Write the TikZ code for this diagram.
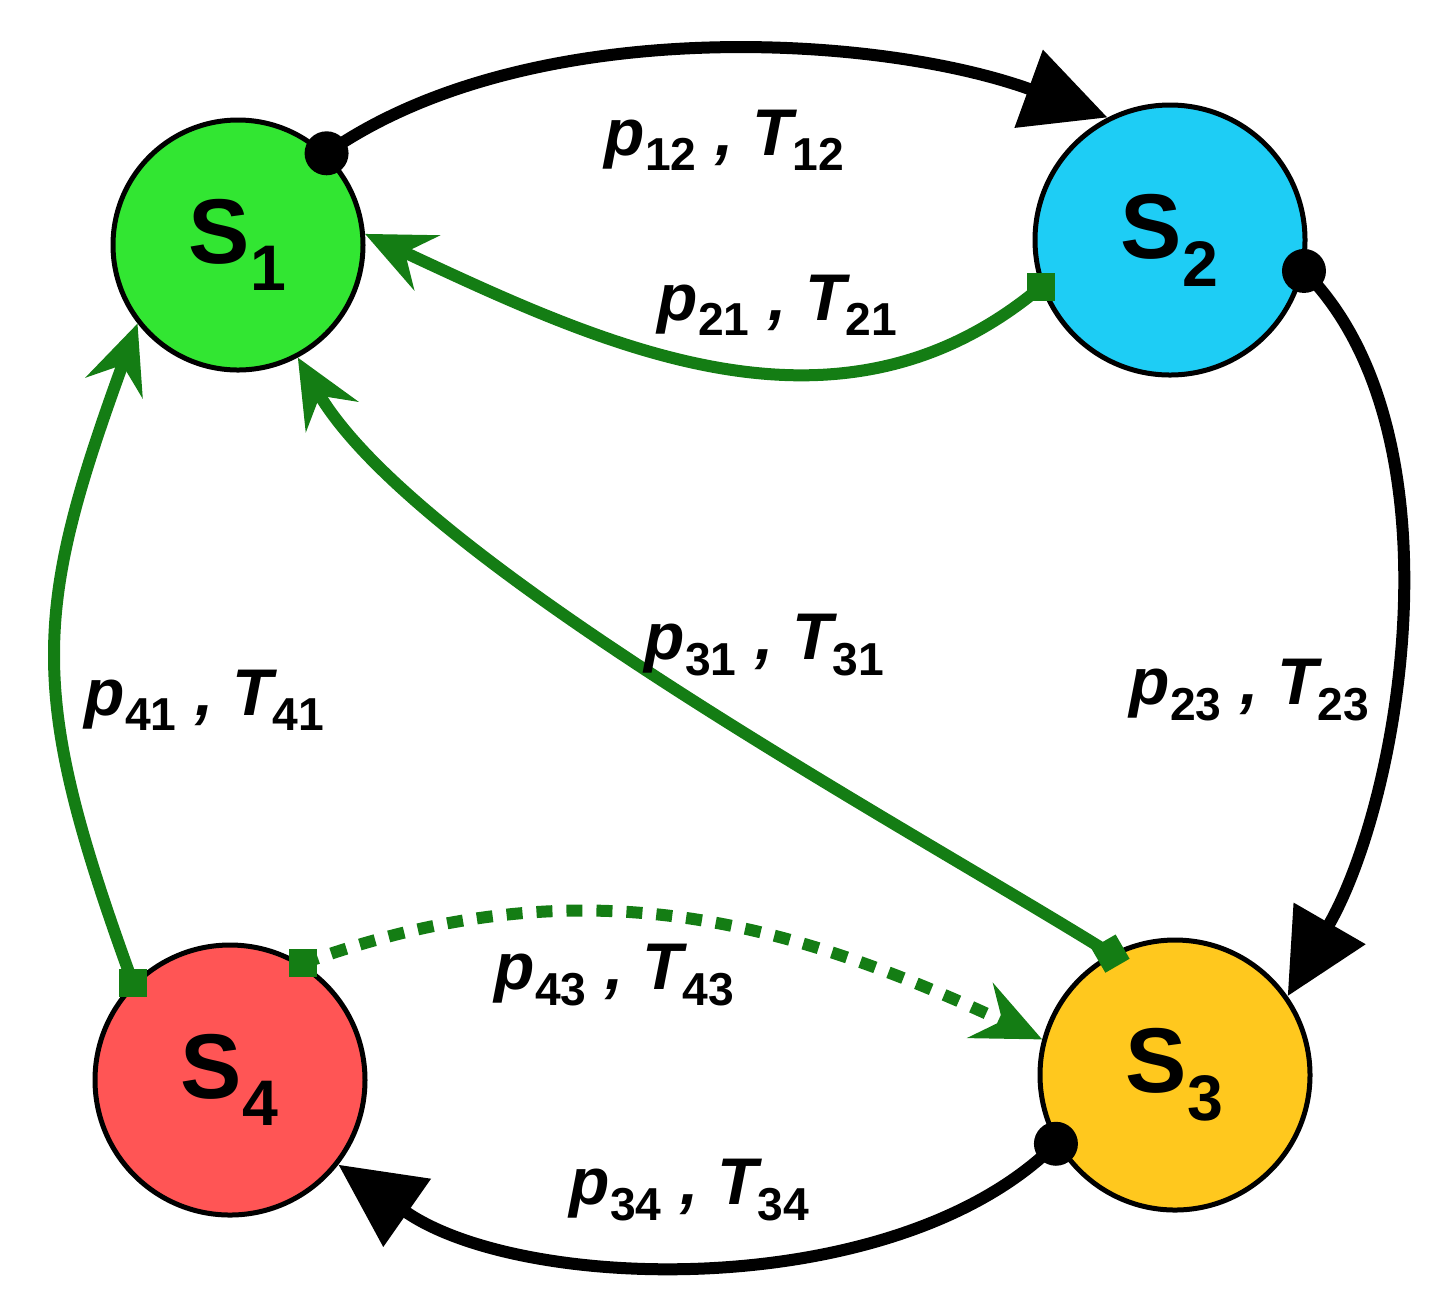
\documentclass[tikz,border=0pt]{standalone}
\usepackage{fontspec}
\setmainfont{Liberation Sans}
\usetikzlibrary{arrows.meta}
\definecolor{dg}{RGB}{20,125,20}
\definecolor{c1}{RGB}{50,230,50}
\definecolor{c2}{RGB}{30,205,245}
\definecolor{c3}{RGB}{255,200,30}
\definecolor{c4}{RGB}{255,85,85}
\newcommand{\sbs}[1]{\textsubscript{\upshape #1}}
\begin{document}
\begin{tikzpicture}[x=0.5pt,y=-0.5pt,
 st/.style={circle,draw=black,line width=2.5pt,minimum size=#1,inner sep=0pt,font=\fontsize{46}{50}\selectfont\bfseries},
 blk/.style={line width=6pt,-{Triangle[length=42pt,width=40pt]}},
 grn/.style={line width=6pt,dg,-{Stealth[length=34pt,width=30pt,inset=12pt]}},
 dotm/.style={circle,fill=black,inner sep=0pt,minimum size=22pt},
 sqm/.style={rectangle,fill=dg,inner sep=0pt,minimum size=14pt},
 lab/.style={font=\fontsize{33}{36}\selectfont\bfseries\itshape}]
\useasboundingbox (0,0) rectangle (1444,1298);
\node[st=125pt,fill=c1] (s1) at (238,245) {S\sbs{1}};
\node[st=135pt,fill=c2] (s2) at (1170,240) {S\sbs{2}};
\node[st=135pt,fill=c3] (s3) at (1175,1075) {S\sbs{3}};
\node[st=135pt,fill=c4] (s4) at (230,1080) {S\sbs{4}};
% black
\draw[blk] (s1.46) to[out=35,in=160,looseness=0.8] (s2.117);
\draw[blk] (s2.-13) to[out=-45,in=60,looseness=0.8] (s3.35);
\draw[blk] (s3.210) to[out=-135,in=-35,looseness=0.8] (s4.-38);
\node[dotm] at (s1.46) {};
\node[dotm] at (s2.-13) {};
\node[dotm] at (s3.210) {};
% green
\draw[grn] (s2.200) to[out=-140,in=-25] (s1.5);
\draw[grn] (s3.118) to[out=148,in=-60,looseness=0.6] (s1.-62);
\draw[grn] (s4.135) to[out=110,in=-110,looseness=1.2] (s1.218);
\draw[grn,dash pattern=on 8pt off 7pt] (s4.58) to[out=20,in=155] (s3.165);
\node[sqm] at (s2.200) {};
\node[sqm,rotate=30] at (s3.118) {};
\node[sqm] at (s4.135) {};
\node[sqm] at (s4.58) {};
% labels
\node[lab] (l12) at (725,140) {p\sbs{12} , T\sbs{12}};
\node[lab] (l21) at (778,305) {p\sbs{21} , T\sbs{21}};
\node[lab] (l23) at (1250,690) {p\sbs{23} , T\sbs{23}};
\node[lab] (l31) at (765,645) {p\sbs{31} , T\sbs{31}};
\node[lab] (l41) at (205,700) {p\sbs{41} , T\sbs{41}};
\node[lab] (l43) at (615,975) {p\sbs{43} , T\sbs{43}};
\node[lab] (l34) at (690,1190) {p\sbs{34} , T\sbs{34}};
\end{tikzpicture}
\end{document}
